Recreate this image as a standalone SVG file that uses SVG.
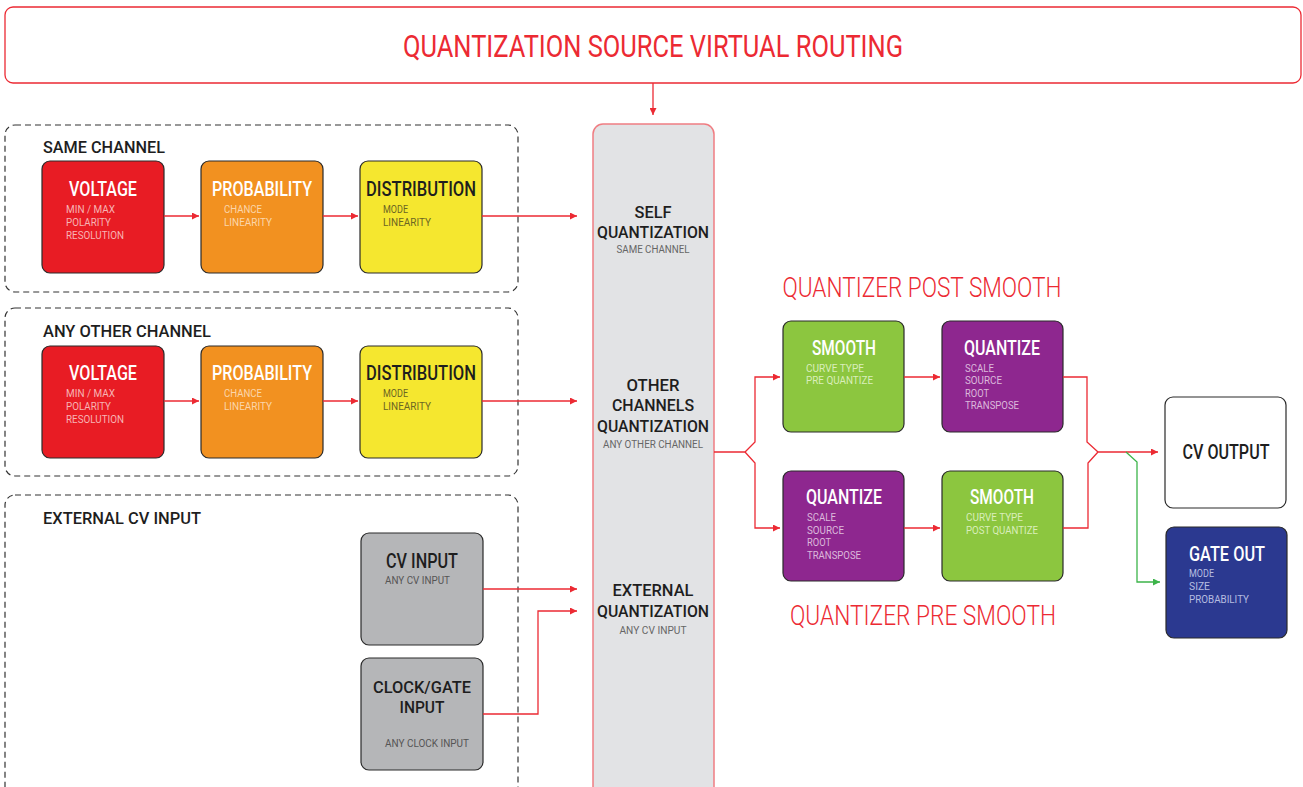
<svg xmlns="http://www.w3.org/2000/svg" width="1303" height="787" viewBox="0 0 1303 787">
<defs>
<style>
.t{font-family:Roboto,"Liberation Sans",sans-serif;}
.ttl{font-family:Roboto,"Liberation Sans",sans-serif;font-size:20px;font-weight:500;}
.st{font-size:17px;}
.sub{font-family:Roboto,"Liberation Sans",sans-serif;font-size:11px;}
.grp{font-family:Roboto,"Liberation Sans",sans-serif;font-size:17px;fill:#1e1e1e;font-weight:500;}
.red{font-family:Roboto,"Liberation Sans",sans-serif;font-size:27px;fill:#ec2a33;font-weight:300;}
.box{stroke:#2a2a2a;stroke-width:1.2;}
.dash{fill:none;stroke:#333;stroke-width:1.2;stroke-dasharray:6 4;}
.wire{fill:none;stroke:#ec2a33;stroke-width:1.3;}
.gwire{fill:none;stroke:#3cb44a;stroke-width:1.3;}
</style>
<marker id="ar" markerWidth="7" markerHeight="7" refX="7" refY="3.5" orient="auto" markerUnits="userSpaceOnUse"><path d="M0,0 L7,3.5 L0,7 z" fill="#ec2a33"/></marker>
<marker id="ag" markerWidth="7" markerHeight="7" refX="7" refY="3.5" orient="auto" markerUnits="userSpaceOnUse"><path d="M0,0 L7,3.5 L0,7 z" fill="#3cb44a"/></marker>
</defs>
<rect width="1303" height="787" fill="#fff"/>

<g id="header">
<rect x="5" y="7" width="1296" height="76" rx="8" fill="#fff" stroke="#ec2a33" stroke-width="1.3"/>
<text class="t" x="653" y="57" font-size="31" fill="#ec2a33" text-anchor="middle" textLength="500" lengthAdjust="spacingAndGlyphs">QUANTIZATION SOURCE VIRTUAL ROUTING</text>
</g>

<g id="group-same">
<rect class="dash" x="5" y="125" width="513" height="167" rx="10"/>
<text class="grp" x="43" y="153" textLength="122" lengthAdjust="spacingAndGlyphs">SAME CHANNEL</text>
</g>
<g id="group-other">
<rect class="dash" x="5" y="308" width="513" height="168" rx="10"/>
<text class="grp" x="43" y="337" textLength="168" lengthAdjust="spacingAndGlyphs">ANY OTHER CHANNEL</text>
</g>
<g id="group-ext">
<rect class="dash" x="5" y="495" width="513" height="310" rx="10"/>
<text class="grp" x="43" y="524" textLength="158" lengthAdjust="spacingAndGlyphs">EXTERNAL CV INPUT</text>
</g>

<g id="voltage1">
<rect class="box" x="42" y="161" width="122" height="112" rx="8" fill="#e81c24"/>
<text class="ttl" x="103" y="196" fill="#fff" text-anchor="middle" textLength="68" lengthAdjust="spacingAndGlyphs">VOLTAGE</text>
<text class="sub" x="66" y="213" fill="#f7b4b4" textLength="49" lengthAdjust="spacingAndGlyphs">MIN / MAX</text>
<text class="sub" x="66" y="226" fill="#f7b4b4" textLength="45" lengthAdjust="spacingAndGlyphs">POLARITY</text>
<text class="sub" x="66" y="239" fill="#f7b4b4" textLength="58" lengthAdjust="spacingAndGlyphs">RESOLUTION</text>
</g>
<g id="probability1">
<rect class="box" x="201" y="161" width="122" height="112" rx="8" fill="#f29120"/>
<text class="ttl" x="262" y="196" fill="#fff" text-anchor="middle" textLength="100" lengthAdjust="spacingAndGlyphs">PROBABILITY</text>
<text class="sub" x="224" y="213" fill="#fbd6ab" textLength="38" lengthAdjust="spacingAndGlyphs">CHANCE</text>
<text class="sub" x="224" y="226" fill="#fbd6ab" textLength="48" lengthAdjust="spacingAndGlyphs">LINEARITY</text>
</g>
<g id="distribution1">
<rect class="box" x="360" y="161" width="122" height="112" rx="8" fill="#f5e72f"/>
<text class="ttl" x="421" y="196" fill="#1e1e1e" text-anchor="middle" textLength="110" lengthAdjust="spacingAndGlyphs">DISTRIBUTION</text>
<text class="sub" x="383" y="213" fill="#6b6523" textLength="25" lengthAdjust="spacingAndGlyphs">MODE</text>
<text class="sub" x="383" y="226" fill="#6b6523" textLength="48" lengthAdjust="spacingAndGlyphs">LINEARITY</text>
</g>

<g id="voltage2">
<rect class="box" x="42" y="346" width="122" height="112" rx="8" fill="#e81c24"/>
<text class="ttl" x="103" y="380" fill="#fff" text-anchor="middle" textLength="68" lengthAdjust="spacingAndGlyphs">VOLTAGE</text>
<text class="sub" x="66" y="397" fill="#f7b4b4" textLength="49" lengthAdjust="spacingAndGlyphs">MIN / MAX</text>
<text class="sub" x="66" y="410" fill="#f7b4b4" textLength="45" lengthAdjust="spacingAndGlyphs">POLARITY</text>
<text class="sub" x="66" y="423" fill="#f7b4b4" textLength="58" lengthAdjust="spacingAndGlyphs">RESOLUTION</text>
</g>
<g id="probability2">
<rect class="box" x="201" y="346" width="122" height="112" rx="8" fill="#f29120"/>
<text class="ttl" x="262" y="380" fill="#fff" text-anchor="middle" textLength="100" lengthAdjust="spacingAndGlyphs">PROBABILITY</text>
<text class="sub" x="224" y="397" fill="#fbd6ab" textLength="38" lengthAdjust="spacingAndGlyphs">CHANCE</text>
<text class="sub" x="224" y="410" fill="#fbd6ab" textLength="48" lengthAdjust="spacingAndGlyphs">LINEARITY</text>
</g>
<g id="distribution2">
<rect class="box" x="360" y="346" width="122" height="112" rx="8" fill="#f5e72f"/>
<text class="ttl" x="421" y="380" fill="#1e1e1e" text-anchor="middle" textLength="110" lengthAdjust="spacingAndGlyphs">DISTRIBUTION</text>
<text class="sub" x="383" y="397" fill="#6b6523" textLength="25" lengthAdjust="spacingAndGlyphs">MODE</text>
<text class="sub" x="383" y="410" fill="#6b6523" textLength="48" lengthAdjust="spacingAndGlyphs">LINEARITY</text>
</g>

<g id="cv-input">
<rect class="box" x="361" y="533" width="122" height="112" rx="8" fill="#b5b6b8"/>
<text class="ttl" x="422" y="568" fill="#1e1e1e" text-anchor="middle" textLength="72" lengthAdjust="spacingAndGlyphs">CV INPUT</text>
<text class="sub" x="385" y="584" fill="#555" textLength="65" lengthAdjust="spacingAndGlyphs">ANY CV INPUT</text>
</g>
<g id="clock-input">
<rect class="box" x="361" y="658" width="122" height="112" rx="8" fill="#b5b6b8"/>
<text class="ttl st" x="422" y="693" fill="#1e1e1e" text-anchor="middle" textLength="98" lengthAdjust="spacingAndGlyphs">CLOCK/GATE</text>
<text class="ttl st" x="422" y="713" fill="#1e1e1e" text-anchor="middle" textLength="45" lengthAdjust="spacingAndGlyphs">INPUT</text>
<text class="sub" x="385" y="747" fill="#555" textLength="84" lengthAdjust="spacingAndGlyphs">ANY CLOCK INPUT</text>
</g>

<g id="quantization-column">
<rect x="593" y="124" width="121" height="690" rx="10" fill="#e2e3e5" stroke="#f07d82" stroke-width="1.5"/>
<text class="ttl st" x="653" y="218" fill="#1e1e1e" text-anchor="middle" textLength="37" lengthAdjust="spacingAndGlyphs">SELF</text>
<text class="ttl st" x="653" y="238" fill="#1e1e1e" text-anchor="middle" textLength="112" lengthAdjust="spacingAndGlyphs">QUANTIZATION</text>
<text class="sub" x="653" y="253" fill="#666" text-anchor="middle" textLength="73" lengthAdjust="spacingAndGlyphs">SAME CHANNEL</text>
<text class="ttl st" x="653" y="391" fill="#1e1e1e" text-anchor="middle" textLength="53" lengthAdjust="spacingAndGlyphs">OTHER</text>
<text class="ttl st" x="653" y="411" fill="#1e1e1e" text-anchor="middle" textLength="82" lengthAdjust="spacingAndGlyphs">CHANNELS</text>
<text class="ttl st" x="653" y="432" fill="#1e1e1e" text-anchor="middle" textLength="112" lengthAdjust="spacingAndGlyphs">QUANTIZATION</text>
<text class="sub" x="653" y="448" fill="#666" text-anchor="middle" textLength="100" lengthAdjust="spacingAndGlyphs">ANY OTHER CHANNEL</text>
<text class="ttl st" x="653" y="596" fill="#1e1e1e" text-anchor="middle" textLength="81" lengthAdjust="spacingAndGlyphs">EXTERNAL</text>
<text class="ttl st" x="653" y="617" fill="#1e1e1e" text-anchor="middle" textLength="112" lengthAdjust="spacingAndGlyphs">QUANTIZATION</text>
<text class="sub" x="653" y="634" fill="#666" text-anchor="middle" textLength="67" lengthAdjust="spacingAndGlyphs">ANY CV INPUT</text>
</g>

<g id="label-post">
<text class="red" x="922" y="297" text-anchor="middle" textLength="279" lengthAdjust="spacingAndGlyphs">QUANTIZER POST SMOOTH</text>
</g>
<g id="label-pre">
<text class="red" x="923" y="625" text-anchor="middle" textLength="266" lengthAdjust="spacingAndGlyphs">QUANTIZER PRE SMOOTH</text>
</g>

<g id="smooth-pre">
<rect class="box" x="783" y="321" width="121" height="111" rx="8" fill="#8cc63f"/>
<text class="ttl" x="844" y="355" fill="#fff" text-anchor="middle" textLength="64" lengthAdjust="spacingAndGlyphs">SMOOTH</text>
<text class="sub" x="806" y="372" fill="#daeebb" textLength="58" lengthAdjust="spacingAndGlyphs">CURVE TYPE</text>
<text class="sub" x="806" y="384" fill="#daeebb" textLength="67" lengthAdjust="spacingAndGlyphs">PRE QUANTIZE</text>
</g>
<g id="quantize-post">
<rect class="box" x="942" y="321" width="121" height="111" rx="8" fill="#8e278f"/>
<text class="ttl" x="1002" y="355" fill="#fff" text-anchor="middle" textLength="76" lengthAdjust="spacingAndGlyphs">QUANTIZE</text>
<text class="sub" x="965" y="372" fill="#dcb9dc" textLength="29" lengthAdjust="spacingAndGlyphs">SCALE</text>
<text class="sub" x="965" y="384" fill="#dcb9dc" textLength="37" lengthAdjust="spacingAndGlyphs">SOURCE</text>
<text class="sub" x="965" y="397" fill="#dcb9dc" textLength="24" lengthAdjust="spacingAndGlyphs">ROOT</text>
<text class="sub" x="965" y="409" fill="#dcb9dc" textLength="54" lengthAdjust="spacingAndGlyphs">TRANSPOSE</text>
</g>
<g id="quantize-pre">
<rect class="box" x="783" y="471" width="121" height="110" rx="8" fill="#8e278f"/>
<text class="ttl" x="844" y="504" fill="#fff" text-anchor="middle" textLength="76" lengthAdjust="spacingAndGlyphs">QUANTIZE</text>
<text class="sub" x="807" y="521" fill="#dcb9dc" textLength="29" lengthAdjust="spacingAndGlyphs">SCALE</text>
<text class="sub" x="807" y="534" fill="#dcb9dc" textLength="37" lengthAdjust="spacingAndGlyphs">SOURCE</text>
<text class="sub" x="807" y="546" fill="#dcb9dc" textLength="24" lengthAdjust="spacingAndGlyphs">ROOT</text>
<text class="sub" x="807" y="559" fill="#dcb9dc" textLength="54" lengthAdjust="spacingAndGlyphs">TRANSPOSE</text>
</g>
<g id="smooth-post">
<rect class="box" x="942" y="471" width="121" height="110" rx="8" fill="#8cc63f"/>
<text class="ttl" x="1002" y="504" fill="#fff" text-anchor="middle" textLength="64" lengthAdjust="spacingAndGlyphs">SMOOTH</text>
<text class="sub" x="966" y="521" fill="#daeebb" textLength="57" lengthAdjust="spacingAndGlyphs">CURVE TYPE</text>
<text class="sub" x="966" y="534" fill="#daeebb" textLength="72" lengthAdjust="spacingAndGlyphs">POST QUANTIZE</text>
</g>

<g id="cv-output">
<rect class="box" x="1165" y="397" width="121" height="111" rx="8" fill="#fff"/>
<text class="ttl" x="1226" y="459" fill="#1e1e1e" text-anchor="middle" textLength="87" lengthAdjust="spacingAndGlyphs">CV OUTPUT</text>
</g>
<g id="gate-out">
<rect class="box" x="1166" y="527" width="121" height="111" rx="8" fill="#2b3990"/>
<text class="ttl" x="1189" y="561" fill="#fff" textLength="76" lengthAdjust="spacingAndGlyphs">GATE OUT</text>
<text class="sub" x="1189" y="577" fill="#b6bde0" textLength="25" lengthAdjust="spacingAndGlyphs">MODE</text>
<text class="sub" x="1189" y="590" fill="#b6bde0" textLength="21" lengthAdjust="spacingAndGlyphs">SIZE</text>
<text class="sub" x="1189" y="603" fill="#b6bde0" textLength="60" lengthAdjust="spacingAndGlyphs">PROBABILITY</text>
</g>

<g id="connectors">
<path class="wire" d="M653,83 V115" marker-end="url(#ar)"/>
<path class="wire" d="M164,216 H199" marker-end="url(#ar)"/>
<path class="wire" d="M323,216 H358" marker-end="url(#ar)"/>
<path class="wire" d="M482,216 H577" marker-end="url(#ar)"/>
<path class="wire" d="M164,401 H199" marker-end="url(#ar)"/>
<path class="wire" d="M323,401 H358" marker-end="url(#ar)"/>
<path class="wire" d="M482,401 H577" marker-end="url(#ar)"/>
<path class="wire" d="M483,589 H577" marker-end="url(#ar)"/>
<path class="wire" d="M483,714 H538 V611 H577" marker-end="url(#ar)"/>
<path class="wire" d="M714,452 H745 L755,442 V377 H780" marker-end="url(#ar)"/>
<path class="wire" d="M745,452 L755,463 V528 H780" marker-end="url(#ar)"/>
<path class="wire" d="M904,377 H940" marker-end="url(#ar)"/>
<path class="wire" d="M904,528 H940" marker-end="url(#ar)"/>
<path class="wire" d="M1063,377 H1087 V442 L1098,452"/>
<path class="wire" d="M1063,528 H1088 V463 L1098,452 H1158" marker-end="url(#ar)"/>
<path class="gwire" d="M1126,452 L1137,462 V582 H1160" marker-end="url(#ag)"/>
</g>
</svg>
